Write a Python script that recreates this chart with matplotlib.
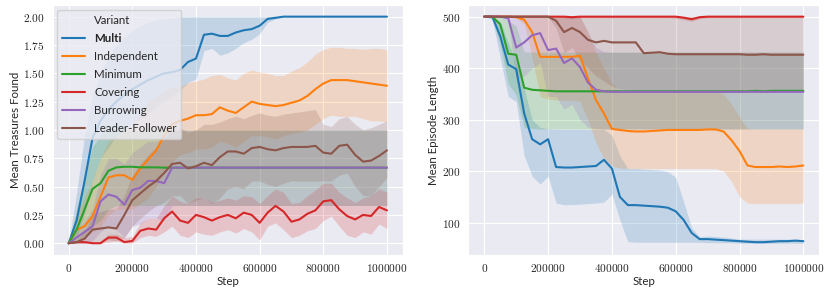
import matplotlib
matplotlib.use("Agg")
import matplotlib.pyplot as plt
from matplotlib.ticker import FuncFormatter
import numpy as np
import seaborn as sns

# training steps (one reading every 25000 steps)
steps = np.linspace(0, 1000000, 41)

variants = ["Multi", "Independent", "Minimum", "Covering", "Burrowing", "Leader-Follower"]

# ---- Mean Treasures Found (mean, lower CI, upper CI) ----
multi_tr = [0.00, 0.20, 0.55, 0.93, 1.08, 1.18, 1.25, 1.31, 1.36, 1.40,
            1.44, 1.47, 1.50, 1.51, 1.53, 1.60, 1.63, 1.84, 1.85, 1.83,
            1.83, 1.86, 1.88, 1.89, 1.92, 1.98, 1.99, 2.00, 2.00, 2.00,
            2.00, 2.00, 2.00, 2.00, 2.00, 2.00, 2.00, 2.00, 2.00, 2.00, 2.00]
multi_tr_lo = [0.00, 0.05, 0.25, 0.55, 0.75, 0.85, 0.95, 1.00, 1.05, 1.10,
               1.15, 1.20, 1.25, 1.30, 1.35, 1.42, 1.45, 1.70, 1.72, 1.66,
               1.68, 1.72, 1.77, 1.80, 1.85, 1.95, 1.98, 2.00, 2.00, 2.00,
               2.00, 2.00, 2.00, 2.00, 2.00, 2.00, 2.00, 2.00, 2.00, 2.00, 2.00]
multi_tr_hi = [0.00, 0.45, 0.95, 1.30, 1.50, 1.65, 1.75, 1.82, 1.88, 1.92,
               1.95, 1.97, 1.98, 1.99, 2.00, 2.00, 2.00, 2.00, 2.00, 2.00,
               2.00, 2.00, 2.00, 2.00, 2.00, 2.00, 2.00, 2.00, 2.00, 2.00,
               2.00, 2.00, 2.00, 2.00, 2.00, 2.00, 2.00, 2.00, 2.00, 2.00, 2.00]

indep_tr = [0.00, 0.12, 0.15, 0.24, 0.41, 0.58, 0.60, 0.60, 0.56, 0.66,
            0.74, 0.82, 0.95, 1.05, 1.08, 1.10, 1.13, 1.13, 1.14, 1.20,
            1.17, 1.15, 1.20, 1.25, 1.23, 1.22, 1.21, 1.22, 1.24, 1.26,
            1.30, 1.36, 1.41, 1.44, 1.44, 1.44, 1.43, 1.42, 1.41, 1.40, 1.39]
indep_tr_lo = [0.00, 0.02, 0.05, 0.10, 0.15, 0.25, 0.30, 0.30, 0.30, 0.35,
               0.40, 0.50, 0.62, 0.72, 0.78, 0.80, 0.83, 0.83, 0.85, 0.90,
               0.88, 0.85, 0.90, 0.95, 0.95, 0.94, 0.92, 0.95, 0.97, 0.98,
               1.00, 1.05, 1.10, 1.13, 1.12, 1.12, 1.12, 1.10, 1.08, 1.08, 1.07]
indep_tr_hi = [0.00, 0.25, 0.40, 0.55, 0.75, 0.90, 0.95, 1.00, 1.05, 1.15,
               1.25, 1.30, 1.35, 1.38, 1.38, 1.42, 1.43, 1.45, 1.48, 1.49,
               1.46, 1.44, 1.50, 1.53, 1.51, 1.50, 1.48, 1.48, 1.52, 1.55,
               1.60, 1.67, 1.71, 1.73, 1.73, 1.72, 1.72, 1.71, 1.72, 1.72, 1.71]

min_tr = [0.00, 0.12, 0.30, 0.48, 0.53, 0.64, 0.67, 0.675, 0.675, 0.67,
          0.67, 0.67, 0.667, 0.667, 0.667, 0.667, 0.667, 0.667, 0.667, 0.667,
          0.667, 0.667, 0.667, 0.667, 0.667, 0.667, 0.667, 0.667, 0.667, 0.667,
          0.667, 0.667, 0.667, 0.667, 0.667, 0.667, 0.667, 0.667, 0.667, 0.667, 0.667]
min_tr_lo = [0.00, 0.00, 0.05, 0.15, 0.20, 0.30, 0.333, 0.333, 0.333, 0.333,
             0.333, 0.333, 0.333, 0.333, 0.333, 0.333, 0.333, 0.333, 0.333, 0.333,
             0.333, 0.333, 0.333, 0.333, 0.333, 0.333, 0.333, 0.333, 0.333, 0.333,
             0.333, 0.333, 0.333, 0.333, 0.333, 0.333, 0.333, 0.333, 0.333, 0.333, 0.333]
min_tr_hi = [0.00, 0.30, 0.60, 0.85, 0.95, 1.00, 1.00, 1.00, 1.00, 1.00,
             1.00, 1.00, 1.00, 1.00, 1.00, 1.00, 1.00, 1.00, 1.00, 1.00,
             1.00, 1.00, 1.00, 1.00, 1.00, 1.00, 1.00, 1.00, 1.00, 1.00,
             1.00, 1.00, 1.00, 1.00, 1.00, 1.00, 1.00, 1.00, 1.00, 1.00, 1.00]

cover_tr = [0.00, 0.01, 0.01, 0.00, 0.00, 0.05, 0.05, 0.01, 0.02, 0.11,
            0.13, 0.12, 0.22, 0.28, 0.20, 0.18, 0.25, 0.23, 0.20, 0.23,
            0.25, 0.22, 0.27, 0.25, 0.18, 0.27, 0.33, 0.28, 0.19, 0.21,
            0.26, 0.29, 0.37, 0.38, 0.30, 0.24, 0.21, 0.25, 0.24, 0.32, 0.29]
cover_tr_lo = [0.00, 0.00, 0.00, 0.00, 0.00, 0.01, 0.02, 0.00, 0.00, 0.05,
               0.07, 0.06, 0.10, 0.15, 0.07, 0.05, 0.10, 0.08, 0.07, 0.10,
               0.12, 0.09, 0.13, 0.10, 0.03, 0.15, 0.18, 0.12, 0.05, 0.07,
               0.11, 0.13, 0.20, 0.24, 0.15, 0.07, 0.05, 0.10, 0.08, 0.17, 0.13]
cover_tr_hi = [0.00, 0.02, 0.02, 0.02, 0.02, 0.08, 0.08, 0.05, 0.06, 0.18,
               0.22, 0.22, 0.33, 0.42, 0.37, 0.35, 0.40, 0.40, 0.36, 0.38,
               0.40, 0.38, 0.42, 0.41, 0.35, 0.42, 0.48, 0.45, 0.35, 0.36,
               0.42, 0.47, 0.53, 0.53, 0.45, 0.40, 0.36, 0.40, 0.42, 0.48, 0.45]

burrow_tr = [0.00, 0.05, 0.10, 0.15, 0.37, 0.43, 0.41, 0.34, 0.47, 0.49,
             0.55, 0.55, 0.53, 0.667, 0.667, 0.667, 0.667, 0.667, 0.667, 0.667,
             0.667, 0.667, 0.667, 0.667, 0.667, 0.667, 0.667, 0.667, 0.667, 0.667,
             0.667, 0.667, 0.667, 0.667, 0.667, 0.667, 0.667, 0.667, 0.667, 0.667, 0.667]
burrow_tr_lo = [0.00, 0.00, 0.00, 0.02, 0.10, 0.15, 0.12, 0.05, 0.15, 0.17,
                0.22, 0.22, 0.20, 0.333, 0.333, 0.333, 0.333, 0.333, 0.333, 0.333,
                0.333, 0.333, 0.333, 0.333, 0.333, 0.333, 0.333, 0.333, 0.333, 0.333,
                0.333, 0.333, 0.333, 0.333, 0.333, 0.333, 0.333, 0.333, 0.333, 0.333, 0.333]
burrow_tr_hi = [0.00, 0.10, 0.20, 0.30, 0.60, 0.75, 0.75, 0.70, 0.80, 0.85,
                0.90, 0.90, 0.95, 1.00, 1.00, 1.00, 1.00, 1.00, 1.00, 1.00,
                1.00, 1.00, 1.00, 1.00, 1.00, 1.00, 1.00, 1.00, 1.00, 1.00,
                1.00, 1.00, 1.00, 1.00, 1.00, 1.00, 1.00, 1.00, 1.00, 1.00, 1.00]

leader_tr = [0.00, 0.01, 0.04, 0.12, 0.13, 0.14, 0.13, 0.25, 0.38, 0.44,
             0.50, 0.55, 0.62, 0.70, 0.71, 0.66, 0.68, 0.71, 0.69, 0.76,
             0.81, 0.81, 0.79, 0.84, 0.85, 0.83, 0.82, 0.84, 0.85, 0.85,
             0.85, 0.86, 0.80, 0.79, 0.86, 0.87, 0.78, 0.72, 0.73, 0.77, 0.82]
leader_tr_lo = [0.00, 0.00, 0.00, 0.02, 0.02, 0.03, 0.02, 0.05, 0.15, 0.22,
                0.28, 0.33, 0.36, 0.42, 0.42, 0.35, 0.38, 0.40, 0.35, 0.40,
                0.48, 0.50, 0.48, 0.55, 0.55, 0.52, 0.50, 0.53, 0.55, 0.55,
                0.55, 0.55, 0.55, 0.55, 0.60, 0.62, 0.50, 0.42, 0.42, 0.50, 0.58]
leader_tr_hi = [0.00, 0.03, 0.10, 0.25, 0.28, 0.30, 0.30, 0.42, 0.60, 0.70,
                0.78, 0.85, 0.92, 1.00, 1.02, 0.98, 1.00, 1.05, 1.05, 1.07,
                1.10, 1.12, 1.10, 1.13, 1.15, 1.13, 1.12, 1.14, 1.15, 1.16,
                1.17, 1.18, 1.05, 1.03, 1.10, 1.12, 1.05, 1.00, 1.02, 1.05, 1.08]

# ---- Mean Episode Length (mean, lower CI, upper CI) ----
multi_len = [500, 500, 462, 407, 398, 312, 262, 252, 262, 208,
             207, 207, 208, 209, 210, 222, 205, 150, 134, 134,
             133, 132, 131, 129, 122, 105, 80, 68, 68, 67,
             66, 65, 64, 63, 62, 62, 63, 64, 64, 65, 64]
multi_len_lo = [500, 495, 420, 345, 335, 230, 190, 175, 190, 138,
                135, 135, 136, 137, 138, 140, 155, 105, 63, 62,
                62, 62, 62, 62, 62, 62, 62, 62, 61, 61,
                61, 61, 60, 60, 60, 60, 60, 60, 60, 60, 60]
multi_len_hi = [500, 500, 490, 450, 410, 360, 300, 285, 282, 281,
                281, 281, 281, 281, 281, 281, 270, 230, 205, 205,
                204, 203, 202, 199, 188, 140, 90, 72, 74, 73,
                72, 70, 68, 68, 68, 68, 68, 68, 68, 68, 67]

indep_len = [500, 500, 500, 500, 499, 494, 470, 422, 422, 422,
             422, 422, 424, 380, 338, 312, 282, 280, 278, 277,
             277, 278, 279, 280, 280, 280, 280, 280, 281, 281,
             277, 260, 239, 211, 208, 208, 208, 209, 208, 209, 211]
indep_len_lo = [500, 500, 500, 500, 497, 485, 420, 345, 340, 338,
                338, 338, 336, 300, 255, 225, 210, 206, 205, 205,
                205, 205, 205, 205, 205, 205, 205, 205, 205, 205,
                200, 180, 150, 138, 137, 137, 137, 137, 137, 137, 138]
indep_len_hi = [500, 500, 500, 500, 500, 500, 500, 500, 500, 500,
                500, 500, 500, 470, 430, 400, 370, 357, 356, 356,
                356, 356, 356, 356, 356, 356, 356, 356, 356, 356,
                350, 330, 305, 283, 282, 282, 282, 282, 282, 282, 282]

min_len = [500, 500, 485, 428, 426, 362, 358, 357, 356, 355,
           355, 355, 355, 355, 355, 355, 355, 355, 355, 355,
           355, 355, 355, 355, 355, 355, 355, 355, 355, 355,
           355, 355, 355, 355, 356, 355, 356, 356, 356, 356, 356]
min_len_lo = [500, 497, 445, 370, 348, 285, 283, 282, 282, 282,
              282, 282, 282, 282, 282, 282, 282, 282, 282, 282,
              282, 282, 282, 282, 282, 282, 282, 282, 282, 282,
              282, 282, 282, 282, 282, 282, 282, 282, 282, 282, 282]
min_len_hi = [500, 500, 500, 492, 482, 432, 431, 431, 431, 431,
              431, 431, 431, 431, 431, 431, 431, 431, 431, 431,
              431, 431, 431, 431, 431, 431, 431, 431, 431, 431,
              431, 431, 431, 431, 431, 431, 431, 431, 431, 431, 431]

cover_len = [500, 500, 500, 500, 500, 500, 500, 500, 500, 500,
             500, 499, 500, 500, 500, 500, 500, 500, 500, 500,
             500, 500, 500, 500, 500, 498, 495, 499, 500, 500,
             500, 500, 500, 500, 500, 500, 500, 500, 500, 500, 500]
cover_len_lo = [500, 500, 500, 500, 500, 500, 500, 500, 500, 499,
                498, 496, 498, 498, 498, 498, 498, 498, 498, 498,
                498, 498, 498, 498, 497, 494, 491, 496, 498, 498,
                498, 498, 498, 498, 498, 498, 498, 498, 498, 498, 498]
cover_len_hi = [500, 500, 500, 500, 500, 500, 500, 500, 500, 501,
                501, 501, 501, 501, 501, 501, 501, 501, 501, 501,
                501, 501, 501, 501, 501, 501, 499, 501, 501, 501,
                501, 501, 501, 501, 501, 501, 501, 501, 501, 501, 501]

burrow_len = [500, 500, 500, 497, 440, 450, 464, 468, 435, 438,
              410, 419, 402, 372, 358, 355, 354, 354, 354, 354,
              354, 354, 354, 354, 354, 354, 354, 354, 354, 354,
              354, 354, 354, 354, 354, 354, 354, 354, 354, 354, 354]
burrow_len_lo = [500, 500, 500, 490, 380, 385, 400, 410, 345, 345,
                 320, 330, 300, 285, 283, 282, 282, 282, 282, 282,
                 282, 282, 282, 282, 282, 282, 282, 282, 282, 282,
                 282, 282, 282, 282, 282, 282, 282, 282, 282, 282, 282]
burrow_len_hi = [500, 500, 500, 500, 500, 500, 500, 500, 500, 500,
                 500, 500, 500, 470, 440, 432, 431, 431, 431, 431,
                 431, 431, 431, 431, 431, 431, 431, 431, 431, 431,
                 431, 431, 431, 431, 431, 431, 431, 431, 431, 431, 431]

leader_len = [500, 500, 500, 500, 500, 500, 500, 500, 500, 492,
              470, 478, 470, 455, 450, 453, 450, 450, 450, 450,
              429, 430, 431, 428, 427, 427, 427, 427, 427, 427,
              427, 427, 427, 426, 426, 427, 426, 426, 426, 426, 426]
leader_len_lo = [500, 500, 500, 500, 500, 500, 500, 500, 500, 478,
                 430, 440, 415, 400, 385, 375, 365, 360, 358, 357,
                 356, 356, 356, 356, 356, 356, 356, 356, 356, 356,
                 356, 356, 356, 356, 356, 356, 356, 356, 356, 356, 356]
leader_len_hi = [500, 500, 500, 500, 500, 500, 500, 500, 500, 500,
                 500, 500, 500, 500, 500, 500, 500, 500, 500, 500,
                 500, 500, 500, 500, 500, 500, 500, 500, 500, 500,
                 500, 500, 500, 500, 500, 500, 500, 500, 500, 500, 500]

treasures = [(multi_tr, multi_tr_lo, multi_tr_hi),
             (indep_tr, indep_tr_lo, indep_tr_hi),
             (min_tr, min_tr_lo, min_tr_hi),
             (cover_tr, cover_tr_lo, cover_tr_hi),
             (burrow_tr, burrow_tr_lo, burrow_tr_hi),
             (leader_tr, leader_tr_lo, leader_tr_hi)]
lengths = [(multi_len, multi_len_lo, multi_len_hi),
           (indep_len, indep_len_lo, indep_len_hi),
           (min_len, min_len_lo, min_len_hi),
           (cover_len, cover_len_lo, cover_len_hi),
           (burrow_len, burrow_len_lo, burrow_len_hi),
           (leader_len, leader_len_lo, leader_len_hi)]

sns.set_style("darkgrid")
plt.rcParams['font.family'] = ['Lato', 'DejaVu Sans']
plt.rcParams['mathtext.fontset'] = 'cm'
colors = sns.color_palette("tab10")

fig = plt.figure(figsize=(8.31, 2.96), dpi=100)
ax1 = fig.add_axes([0.0635, 0.14, 0.4213, 0.842])
ax2 = fig.add_axes([0.5636, 0.14, 0.4223, 0.842])

lines = []
for i, name in enumerate(variants):
    m, lo, hi = treasures[i]
    ln, = ax1.plot(steps, m, color=colors[i], lw=1.5, label=name)
    ax1.fill_between(steps, lo, hi, color=colors[i], alpha=0.2, lw=0)
    lines.append(ln)
    m, lo, hi = lengths[i]
    ax2.plot(steps, m, color=colors[i], lw=1.5)
    ax2.fill_between(steps, lo, hi, color=colors[i], alpha=0.2, lw=0)

for ax in (ax1, ax2):
    ax.set_xlim(-50000, 1050000)
    ax.set_xticks([0, 200000, 400000, 600000, 800000, 1000000])
    ax.xaxis.set_major_formatter(FuncFormatter(lambda v, p: '$%d$' % int(v)))
    ax.tick_params(labelsize=8.2, pad=2)
    ax.set_xlabel("Step", fontsize=8.3, labelpad=1)

ax1.set_ylim(-0.1, 2.1)
ax1.set_yticks(np.arange(0, 2.01, 0.25))
ax1.yaxis.set_major_formatter(FuncFormatter(lambda v, p: '$%.2f$' % v))
ax1.set_ylabel("Mean Treasures Found", fontsize=8.3, labelpad=2)

ax2.set_ylim(38, 522)
ax2.set_yticks([100, 200, 300, 400, 500])
ax2.yaxis.set_major_formatter(FuncFormatter(lambda v, p: '$%d$' % int(v)))
ax2.set_ylabel("Mean Episode Length", fontsize=8.3, labelpad=2)

# seaborn-style legend: the hue name sits as a blank first entry
blank, = ax1.plot([], [], color='none', label="Variant")
leg = ax1.legend(handles=[blank] + lines, loc='upper left', fontsize=8.3,
                 labelspacing=0.62, borderaxespad=0.4, handlelength=2.0)
leg.get_texts()[1].set_fontweight('bold')

fig.savefig("out.png", dpi=100)
